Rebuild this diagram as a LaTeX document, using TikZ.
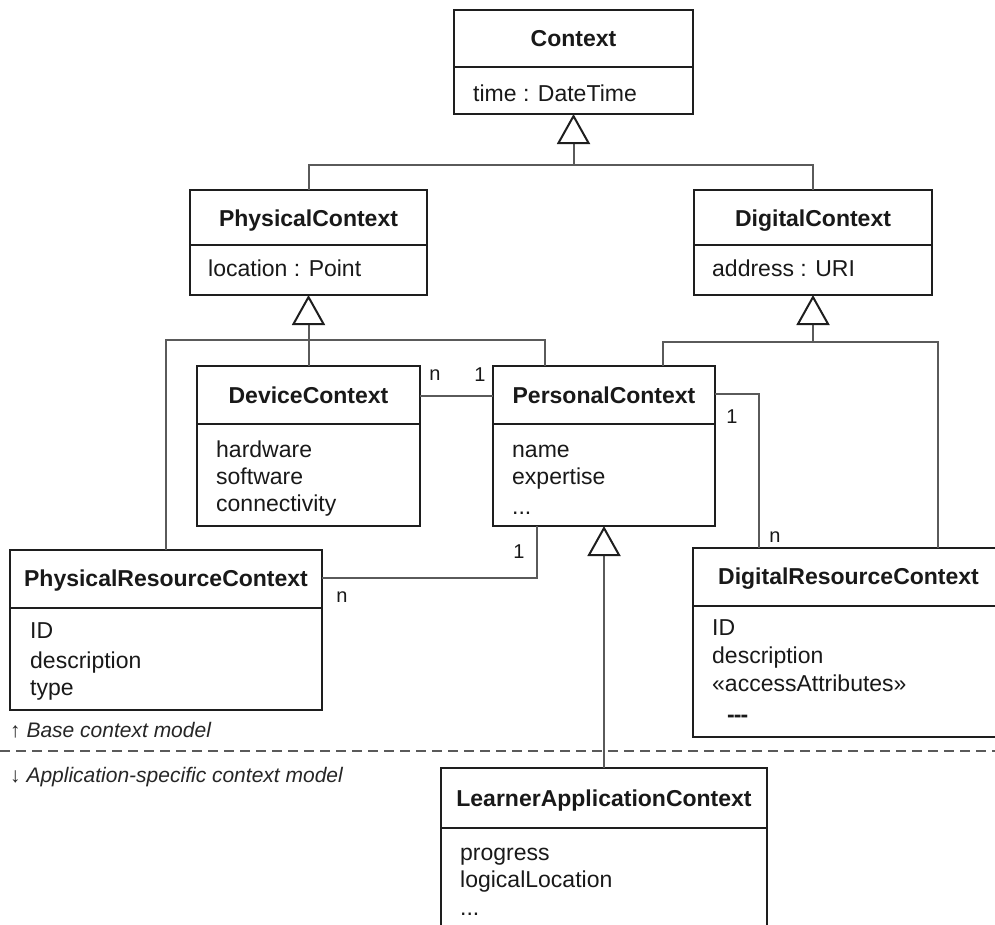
\documentclass[tikz,border=0pt]{standalone}
\usepackage{fontspec}
\setmainfont{Liberation Sans}
\usetikzlibrary{arrows.meta}
\definecolor{boxline}{HTML}{1E1E1E}
\definecolor{connline}{HTML}{5A5A5A}
\newcommand\umlcls[6]{%
  \node[umlbox, minimum width={#4-#2}, minimum height={#5-#3}] (#1) at ({(#2+#4)/2},{(#3+#5)/2}) {};
  \draw[boxl] (#1.west |- 0,#6) -- (#1.east |- 0,#6);}
\begin{document}
\begin{tikzpicture}[x=1pt,y=-1pt,
  umlbox/.style={draw=boxline, line width=2pt, fill=white, inner sep=0pt, outer sep=0pt},
  boxl/.style={draw=boxline, line width=2pt},
  ttl/.style={font=\fontsize{23}{27}\selectfont\bfseries, anchor=base, inner sep=0pt, text=black!90},
  attr/.style={font=\fontsize{23}{27}\selectfont, anchor=base west, inner sep=0pt, text=black!90},
  mult/.style={font=\fontsize{20}{24}\selectfont, inner sep=0pt, text=black!90},
  note/.style={font=\fontsize{21}{25}\selectfont\itshape, anchor=base west, inner sep=0pt, text=black!85},
  conn/.style={draw=connline, line width=2pt},
  inh/.style={conn, -{Triangle[open, length=30pt, width=33pt, line width=2pt, color=boxline]}}]
\useasboundingbox (0,0) rectangle (995,924);
\fill[white] (0,0) rectangle (995,924);

% classes
\umlcls{ctx}{454}{10}{693}{114}{67}
\umlcls{pc}{190}{190}{427}{295}{245}
\umlcls{dc}{694}{190}{932}{295}{245}
\umlcls{devc}{197}{366}{420}{526}{424}
\umlcls{perc}{493}{366}{715}{526}{424}
\umlcls{prc}{10}{550}{322}{710}{608}
\umlcls{drc}{693}{548}{1005}{737}{606}
\umlcls{lac}{441}{768}{767}{940}{828}

% titles
\node[ttl] (ctx-t) at (573.5,46) {Context};
\node[ttl] (pc-t) at (308.5,226) {PhysicalContext};
\node[ttl] (dc-t) at (813,226) {DigitalContext};
\node[ttl] (devc-t) at (308.5,403) {DeviceContext};
\node[ttl] (perc-t) at (604,403) {PersonalContext};
\node[ttl] (prc-t) at (166,586) {PhysicalResourceContext};
\node[ttl] (drc-t) at (848.5,584) {DigitalResourceContext};
\node[ttl] (lac-t) at (604,806) {LearnerApplicationContext};

% attributes
\node[attr] (ctx-a1) at (473,101) {time : DateTime};
\node[attr] (pc-a1) at (208,276) {location : Point};
\node[attr] (dc-a1) at (712,276) {address : URI};
\node[attr] (devc-a1) at (216,457) {hardware};
\node[attr] (devc-a2) at (216,484) {software};
\node[attr] (devc-a3) at (216,511) {connectivity};
\node[attr] (perc-a1) at (512,457) {name};
\node[attr] (perc-a2) at (512,484) {expertise};
\node[attr] (perc-a3) at (512,514) {...};
\node[attr] (prc-a1) at (30,638) {ID};
\node[attr] (prc-a2) at (30,668) {description};
\node[attr] (prc-a3) at (30,695) {type};
\node[attr] (drc-a1) at (712,635) {ID};
\node[attr] (drc-a2) at (712,663) {description};
\node[attr] (drc-a3) at (712,691) {«accessAttributes»};
\node[attr] (drc-a4) at (727,722) {\textbf{-\kern-1pt-\kern-1pt-}};
\node[attr] (lac-a1) at (460,860) {progress};
\node[attr] (lac-a2) at (460,887) {logicalLocation};
\node[attr] (lac-a3) at (460,915) {...};

% generalisations
\coordinate (j1) at (573.5,165);
\draw[inh] (j1) -- (ctx.south);
\draw[conn] (pc.north) |- (j1) -| (dc.north);

\coordinate (j2) at (308.5,340);
\draw[inh] (j2) -- (pc.south);
\draw[conn] (prc.north) |- (j2) -| ([xshift=-59pt]perc.north);
\draw[conn] (j2) -- (devc.north);

\coordinate (j3) at (813,342);
\draw[inh] (j3) -- (dc.south);
\draw[conn] ([xshift=59pt]perc.north) |- (j3) -| ([xshift=89pt]drc.north);

\draw[inh] (lac.north) -- (perc.south);

% associations
\draw[conn] ([yshift=-30pt]devc.north east) -- ([yshift=-30pt]perc.north west);
\draw[conn] ([yshift=-28pt]perc.north east) -| ([xshift=-90pt]drc.north);
\draw[conn] ([xshift=-67pt]perc.south) |- ([yshift=-28pt]prc.north east);

% multiplicities
\node[mult] (m1) at (435,375) {n};
\node[mult] (m2) at (480,375) {1};
\node[mult] (m3) at (732,417) {1};
\node[mult] (m4) at (775,537) {n};
\node[mult] (m5) at (519,552) {1};
\node[mult] (m6) at (342,597) {n};

% layer separator
\coordinate (dl) at (0,751);
\coordinate (dr) at (995,751);
\draw[conn, dash pattern=on 10pt off 6pt] (dl) -- (dr);
\node[note] (n1) at (10,737) {{\upshape ↑} Base context model};
\node[note] (n2) at (10,782) {{\upshape ↓} Application-specific context model};
\end{tikzpicture}
\end{document}
